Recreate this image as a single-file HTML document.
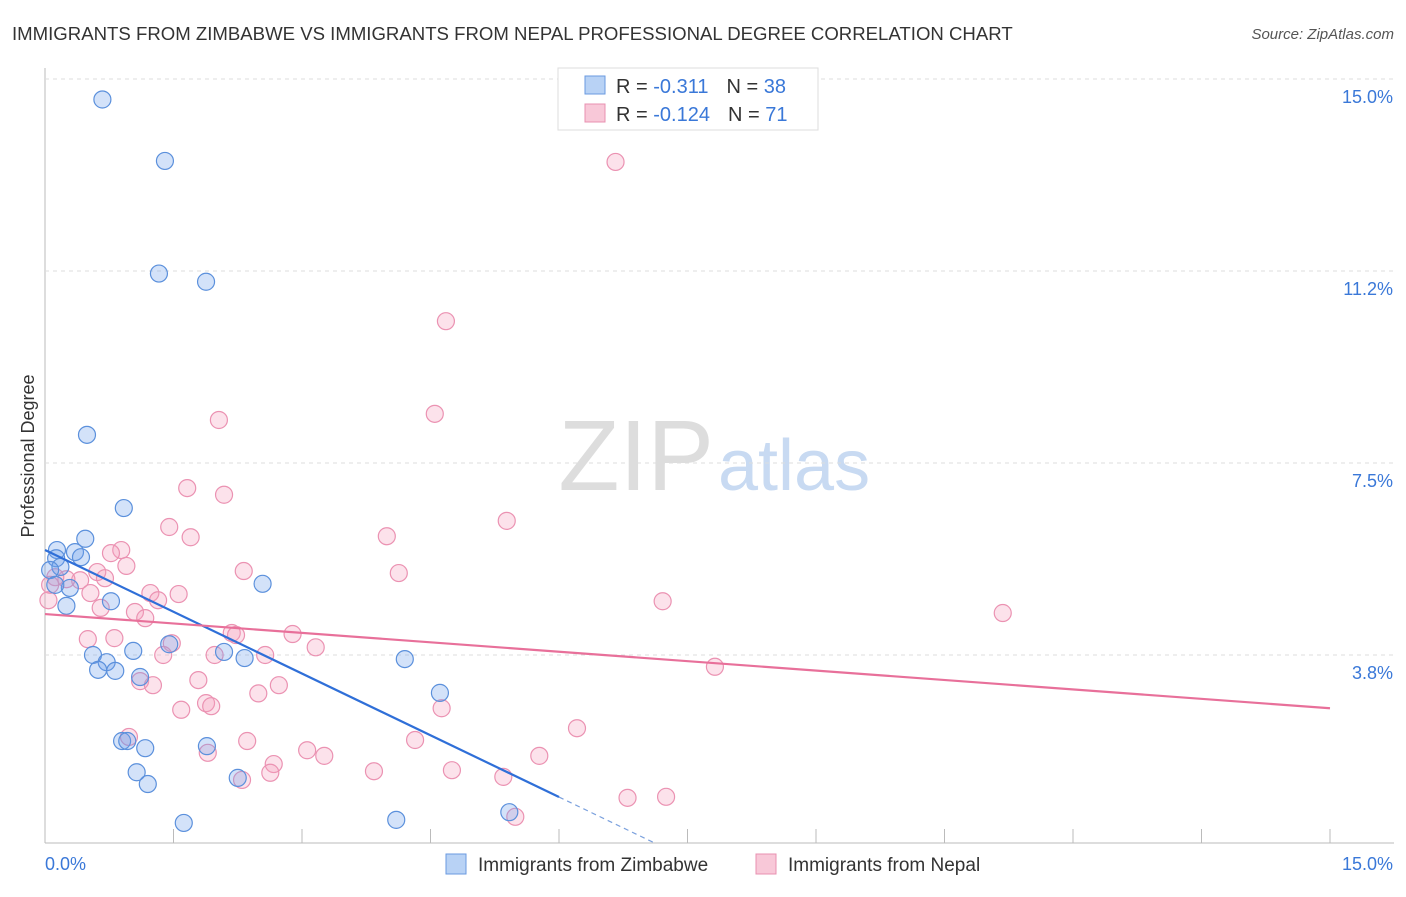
<!DOCTYPE html>
<html><head><meta charset="utf-8"><style>
body{margin:0;background:#fff;font-family:"Liberation Sans",sans-serif;}
svg text{font-family:"Liberation Sans",sans-serif;}
</style></head><body>
<svg id="c" width="1406" height="892" xmlns="http://www.w3.org/2000/svg">
<text x="12" y="40" font-size="18.6" fill="#333">IMMIGRANTS FROM ZIMBABWE VS IMMIGRANTS FROM NEPAL PROFESSIONAL DEGREE CORRELATION CHART</text>
<text x="1394" y="39" font-size="15" fill="#555" font-style="italic" text-anchor="end">Source: ZipAtlas.com</text>
<text x="714" y="490" font-size="100" fill="#ddd" text-anchor="end" font-family="Liberation Serif">ZIP</text>
<text x="718" y="490" font-size="72" fill="#c8daf2">atlas</text>
<text transform="translate(34,456) rotate(-90)" font-size="18" fill="#333" text-anchor="middle">Professional Degree</text>
<g id="grid"></g><g id="pts"></g><g id="lines"></g>
<g>
<rect x="558" y="68" width="260" height="62" fill="#fff" stroke="#ddd"/>
<rect x="585" y="76" width="20" height="18" fill="#b8d2f5" stroke="#6a9ae0"/>
<rect x="585" y="104" width="20" height="18" fill="#f8c8d8" stroke="#e890b0"/>
<text x="616" y="93" font-size="20" fill="#333">R = <tspan fill="#3a78d8">-0.311</tspan><tspan dx="18">N = </tspan><tspan fill="#3a78d8">38</tspan></text>
<text x="616" y="121" font-size="20" fill="#333">R = <tspan fill="#3a78d8">-0.124</tspan><tspan dx="18">N = </tspan><tspan fill="#3a78d8"> 71</tspan></text>
</g>
<g>
<rect x="446" y="854" width="20" height="20" fill="#b8d2f5" stroke="#6a9ae0"/>
<text x="478" y="871" font-size="19" fill="#333">Immigrants from Zimbabwe</text>
<rect x="756" y="854" width="20" height="20" fill="#f8c8d8" stroke="#e890b0"/>
<text x="788" y="871" font-size="19" fill="#333">Immigrants from Nepal</text>
</g>
</svg>
<script>
const blueX=[0.67,1.40,1.33,1.88,0.49,0.92,0.47,0.14,0.35,0.42,0.13,0.18,0.06,0.29,0.12,0.25,0.77,2.54,1.03,1.45,2.09,2.33,4.20,0.56,0.72,0.62,0.82,1.11,4.61,1.89,0.90,0.96,1.17,1.07,1.20,2.25,1.62,4.10,5.42];
const blueY=[14.6,13.4,11.2,11.04,8.05,6.62,6.02,5.80,5.76,5.66,5.64,5.47,5.41,5.06,5.12,4.71,4.80,5.14,3.83,3.96,3.81,3.69,3.67,3.75,3.61,3.46,3.44,3.32,3.01,1.97,2.07,2.07,1.93,1.46,1.23,1.35,0.47,0.53,0.68];
const pinkX=[6.66,4.68,2.03,4.55,1.66,2.09,5.39,1.45,1.70,3.99,0.89,0.77,2.32,4.13,0.95,0.61,0.41,0.70,0.25,0.12,0.06,0.04,1.23,1.56,0.53,0.65,1.05,1.32,1.17,7.21,11.18,2.18,2.89,2.23,0.50,0.81,1.48,3.16,1.38,1.98,2.57,7.82,1.79,2.73,1.11,1.26,2.49,1.88,1.59,1.94,4.63,6.21,0.98,2.36,4.32,3.06,3.26,1.90,5.77,2.67,2.63,2.30,3.84,4.75,5.35,6.80,7.25,5.49];
const pinkY=[13.38,10.27,8.34,8.46,7.01,6.88,6.37,6.25,6.05,6.07,5.80,5.74,5.39,5.35,5.49,5.37,5.21,5.25,5.23,5.27,5.12,4.82,4.96,4.94,4.96,4.67,4.59,4.82,4.47,4.80,4.57,4.18,4.16,4.14,4.06,4.08,3.98,3.90,3.75,3.75,3.75,3.52,3.26,3.16,3.24,3.16,3.00,2.81,2.68,2.75,2.71,2.32,2.15,2.07,2.09,1.89,1.78,1.84,1.78,1.62,1.45,1.31,1.48,1.50,1.37,0.96,0.98,0.59];
const blueLine=[5.8,-0.804,6.0,7.1];
const pinkLine=[4.55,-0.1227,15];
const yTicks=[15,11.25,7.5,3.75];
const yTickLabels=["15.0%","11.2%","7.5%","3.8%"];
const xTicks=[0,1.5,3,4.5,6,7.5,9,10.5,12,13.5,15];
const xs=v=>45+v/15*1285, ys=v=>847-v*51.2;
const NS="http://www.w3.org/2000/svg";
function mk(t,a,p){const e=document.createElementNS(NS,t);for(const k in a)e.setAttribute(k,a[k]);p.appendChild(e);return e;}
const g=document.getElementById('grid');
const ax=mk('line',{x1:45,y1:68,x2:45,y2:843,stroke:'#bbb'},g);


const bx=mk('line',{x1:45,y1:843,x2:1394,y2:843,stroke:'#bbb'},g);


yTicks.forEach((v,i)=>{
 const l=mk('line',{x1:45,x2:1394,y1:ys(v),y2:ys(v),stroke:'#ddd','stroke-dasharray':'4,4'},g);
 
 
 const t=mk('text',{x:1393,y:ys(v)+24,'font-size':18,fill:'#3a78d8','text-anchor':'end'},g);
 t.textContent=yTickLabels[i];
 
 
});
xTicks.forEach(v=>{
 const l=mk('line',{x1:xs(v),x2:xs(v),y1:829,y2:843,stroke:'#bbb'},g);
 
 
});
const t0=mk('text',{x:45,y:870,'font-size':18,fill:'#3a78d8'},g);t0.textContent="0.0%";


const t1=mk('text',{x:1393,y:870,'font-size':18,fill:'#3a78d8','text-anchor':'end'},g);t1.textContent="15.0%";


const P=document.getElementById('pts');
pinkX.forEach((x,i)=>{const c=mk('circle',{cx:xs(x),cy:ys(pinkY[i]),r:8.5,fill:'rgba(244,160,190,0.3)',stroke:'#eb92b2','stroke-width':1.2},P);
 
 });
blueX.forEach((x,i)=>{const c=mk('circle',{cx:xs(x),cy:ys(blueY[i]),r:8.5,fill:'rgba(110,160,235,0.3)',stroke:'#5b90dc','stroke-width':1.2},P);
 
 });
const L=document.getElementById('lines');
const bl=mk('line',{x1:xs(0),y1:ys(blueLine[0]),x2:xs(blueLine[2]),y2:ys(blueLine[0]+blueLine[1]*blueLine[2]),stroke:'#2f6fd8','stroke-width':2.2},L);


const bd=mk('line',{x1:xs(blueLine[2]),y1:ys(blueLine[0]+blueLine[1]*blueLine[2]),x2:xs(blueLine[3]),y2:ys(blueLine[0]+blueLine[1]*blueLine[3]),stroke:'#7aa0dd','stroke-width':1.2,'stroke-dasharray':'5,4'},L);


const pl=mk('line',{x1:xs(0),y1:ys(pinkLine[0]),x2:xs(pinkLine[2]),y2:ys(pinkLine[0]+pinkLine[1]*pinkLine[2]),stroke:'#e8709a','stroke-width':2.2},L);


</script>
</body></html>
